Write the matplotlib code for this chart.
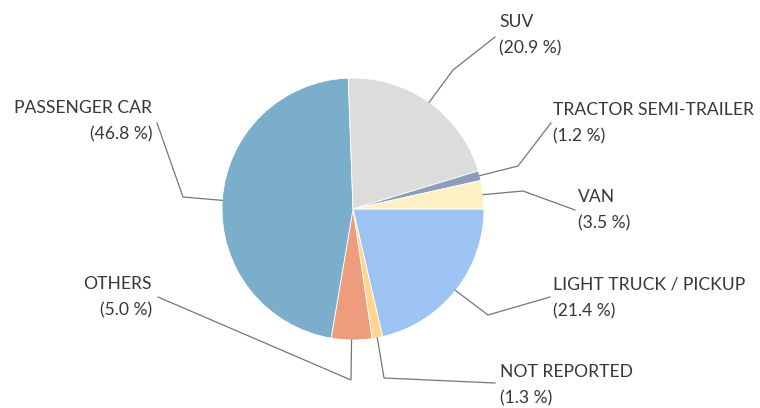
import numpy as np
import matplotlib.pyplot as plt

# vehicle body type shares, listed clockwise from 3 o'clock
categories = ['LIGHT TRUCK / PICKUP', 'NOT REPORTED', 'OTHERS', 'PASSENGER CAR',
              'SUV', 'TRACTOR SEMI-TRAILER', 'VAN']
shares = [21.4, 1.3, 5.0, 46.8, 20.9, 1.2, 3.5]
colors = ['#9cc3f2', '#ffd58f', '#ee9c7e', '#7aaeca', '#dcdcdc', '#8b9db8', '#fff0c6']

W, H = 760, 408
CX, CY, R = 353, 209, 131

# label anchor (x, y of first line), alignment and elbow point of the leader, in pixels from top-left
label_pos = [(553, 285), (500, 372), (152, 284), (152, 108), (499, 22), (553, 110), (578, 197)]
label_ha = ['left', 'left', 'right', 'right', 'left', 'left', 'left']
elbows = [(488, 315), (384, 378), (351, 380), (183, 197), (453, 70), (518, 166), (523, 191)]
line_ends = [(550, 297), (495, 383), (158, 297), (157, 123), (495, 37), (551, 123), (575, 210)]


def fy(y):
    return H - y


fig = plt.figure(figsize=(W / 100, H / 100), dpi=100)
ax = fig.add_axes([0, 0, 1, 1])

wedges, _ = ax.pie(shares, colors=colors, startangle=0, counterclock=False,
                   center=(CX, fy(CY)), radius=R, frame=True,
                   wedgeprops=dict(edgecolor='white', linewidth=0.6))
ax.set_xlim(0, W)
ax.set_ylim(0, H)
ax.set_aspect('equal')
ax.axis('off')

text_kw = dict(fontsize=12.6, color='#383838', family=['Lato', 'DejaVu Sans'], va='center')
for w, name, val, (tx, ty), ha, (ex, ey), (lx, ly) in zip(
        wedges, categories, shares, label_pos, label_ha, elbows, line_ends):
    mid = np.deg2rad((w.theta1 + w.theta2) / 2)
    sx = CX + R * np.cos(mid)
    sy = fy(CY) + R * np.sin(mid)
    ax.plot([sx, ex, lx], [sy, fy(ey), fy(ly)], color='#767676', lw=0.9,
            solid_joinstyle='miter')
    ax.text(tx, fy(ty), name, ha=ha, **text_kw)
    ax.text(tx, fy(ty + 26), f'({val:.1f} %)', ha=ha, **text_kw)

fig.savefig('out.png', dpi=100, facecolor='white')
